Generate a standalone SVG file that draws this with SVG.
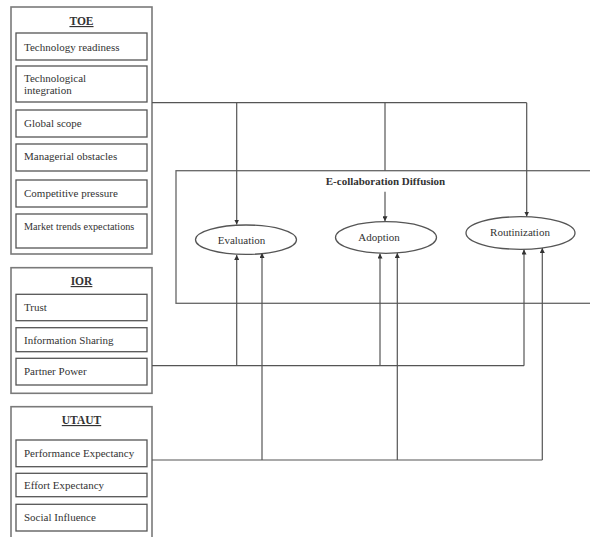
<svg xmlns="http://www.w3.org/2000/svg" width="590" height="537" viewBox="0 0 590 537">
  <defs>
    <style>
      .outer { fill: #fff; stroke: #7a7a7a; stroke-width: 1.6; }
      .inner { fill: #fff; stroke: #555; stroke-width: 1.3; }
      .frame { fill: none; stroke: #666; stroke-width: 1.3; }
      .oval { fill: #fff; stroke: #555; stroke-width: 1.3; }
      .lbl { font-family: "Liberation Serif", "Times New Roman", serif; font-size: 11px; fill: #333; }
      .head { font-family: "Liberation Serif", "Times New Roman", serif; font-size: 11.5px; font-weight: bold; fill: #333; text-decoration: underline; }
      .title { font-family: "Liberation Serif", "Times New Roman", serif; font-size: 11px; font-weight: bold; fill: #333; }
      .link { fill: none; stroke: #555; stroke-width: 1.2; }
    </style>
    <marker id="tip" viewBox="0 0 10 10" refX="10" refY="5" markerWidth="5" markerHeight="5" orient="auto" markerUnits="userSpaceOnUse">
      <path d="M0,0 L10,5 L0,10 z" fill="#333"/>
    </marker>
  </defs>
  <rect width="590" height="537" fill="#fff"/>

  <!-- E-collaboration Diffusion frame -->
  <g id="diffusion">
    <rect class="frame" x="176" y="170.7" width="430" height="132.6"/>
    <text class="title" x="385.5" y="185" text-anchor="middle">E-collaboration Diffusion</text>
  </g>

  <!-- TOE group -->
  <g id="toe">
    <rect class="outer" x="11" y="7" width="141" height="247"/>
    <text class="head" x="81.5" y="25" text-anchor="middle">TOE</text>
    <rect class="inner" x="16" y="33" width="131" height="27"/>
    <text class="lbl" x="24" y="50.5">Technology readiness</text>
    <rect class="inner" x="16" y="66" width="131" height="36"/>
    <text class="lbl" x="24" y="81.5">Technological</text>
    <text class="lbl" x="24" y="94">integration</text>
    <rect class="inner" x="16" y="110" width="131" height="27"/>
    <text class="lbl" x="24" y="126.5">Global scope</text>
    <rect class="inner" x="16" y="144" width="131" height="27"/>
    <text class="lbl" x="24" y="159.5">Managerial obstacles</text>
    <rect class="inner" x="16" y="180" width="131" height="27"/>
    <text class="lbl" x="24" y="196.5">Competitive pressure</text>
    <rect class="inner" x="16" y="214" width="131" height="34"/>
    <text class="lbl" x="24" y="230" style="font-size:10.2px">Market trends expectations</text>
  </g>

  <!-- IOR group -->
  <g id="ior">
    <rect class="outer" x="11" y="267.7" width="141" height="125.6"/>
    <text class="head" x="81.5" y="285" text-anchor="middle">IOR</text>
    <rect class="inner" x="16" y="294.3" width="131" height="26.4"/>
    <text class="lbl" x="24" y="310.5">Trust</text>
    <rect class="inner" x="16" y="327.7" width="131" height="24"/>
    <text class="lbl" x="24" y="344">Information Sharing</text>
    <rect class="inner" x="16" y="358.3" width="131" height="26.7"/>
    <text class="lbl" x="24" y="375">Partner Power</text>
  </g>

  <!-- UTAUT group -->
  <g id="utaut">
    <rect class="outer" x="11" y="406.7" width="141" height="140"/>
    <text class="head" x="81.5" y="424" text-anchor="middle">UTAUT</text>
    <rect class="inner" x="16" y="440" width="131" height="26.7"/>
    <text class="lbl" x="24" y="456.5">Performance Expectancy</text>
    <rect class="inner" x="16" y="473.3" width="131" height="23.4"/>
    <text class="lbl" x="24" y="489">Effort Expectancy</text>
    <rect class="inner" x="16" y="504.3" width="131" height="26.7"/>
    <text class="lbl" x="24" y="520.5">Social Influence</text>
  </g>

  <!-- Diffusion stages -->
  <g id="evaluation">
    <ellipse class="oval" cx="246" cy="239.7" rx="50.5" ry="14.7"/>
    <text class="lbl" x="241.5" y="243.5" text-anchor="middle">Evaluation</text>
  </g>
  <g id="adoption">
    <ellipse class="oval" cx="386" cy="237.5" rx="50.5" ry="15.8"/>
    <text class="lbl" x="379" y="240.5" text-anchor="middle">Adoption</text>
  </g>
  <g id="routinization">
    <ellipse class="oval" cx="520.5" cy="233" rx="54.5" ry="16.3"/>
    <text class="lbl" x="520" y="236" text-anchor="middle">Routinization</text>
  </g>

  <!-- Connectors -->
  <g id="connectors">
    <!-- TOE bus -->
    <path class="link" d="M152,102.7 H526.7"/>
    <path class="link" d="M236.7,102.7 V224.5" marker-end="url(#tip)"/>
    <path class="link" d="M385,102.7 V170.7"/>
    <path class="link" d="M385,191.7 V221.2" marker-end="url(#tip)"/>
    <path class="link" d="M526.7,102.7 V216.5" marker-end="url(#tip)"/>
    <!-- IOR bus -->
    <path class="link" d="M152,365.7 H524"/>
    <path class="link" d="M236.7,365.7 V255" marker-end="url(#tip)"/>
    <path class="link" d="M380,365.7 V253.5" marker-end="url(#tip)"/>
    <path class="link" d="M524,365.7 V249.5" marker-end="url(#tip)"/>
    <!-- UTAUT bus -->
    <path class="link" d="M152,460 H542.3"/>
    <path class="link" d="M262,460 V253" marker-end="url(#tip)"/>
    <path class="link" d="M397.3,460 V253" marker-end="url(#tip)"/>
    <path class="link" d="M542.3,460 V248" marker-end="url(#tip)"/>
  </g>
</svg>
